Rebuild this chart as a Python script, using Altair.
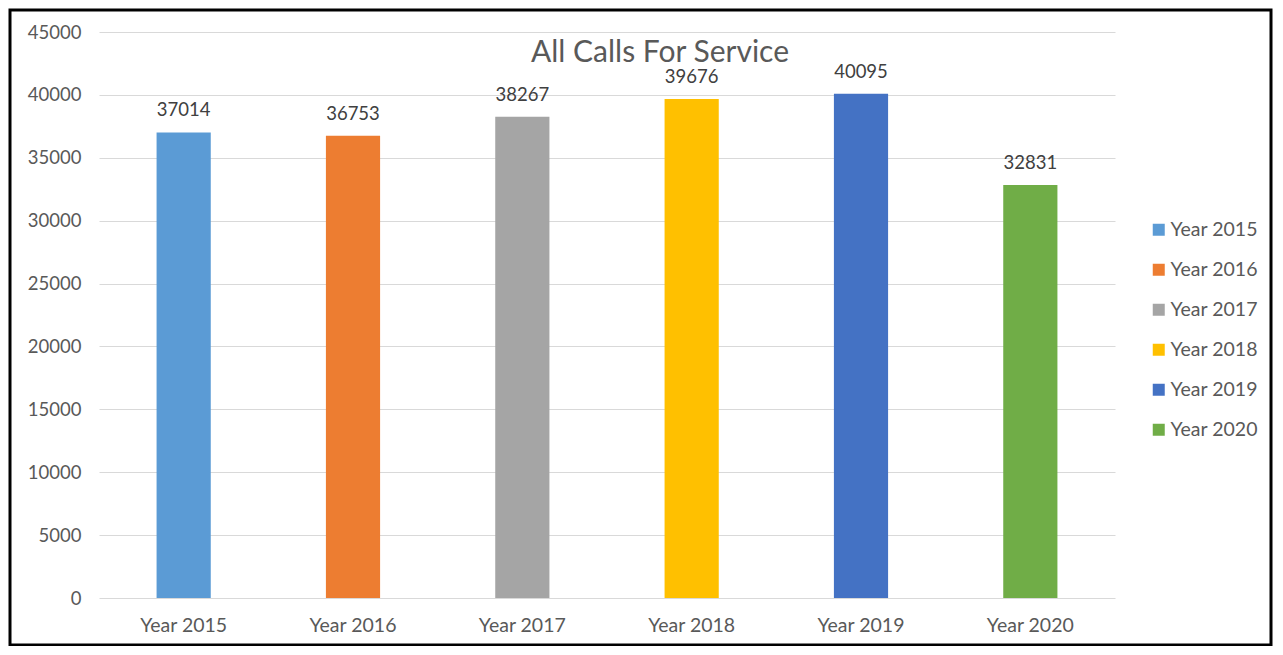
import altair as alt
import pandas as pd

years = ["Year 2015", "Year 2016", "Year 2017", "Year 2018", "Year 2019", "Year 2020"]
calls = [37014, 36753, 38267, 39676, 40095, 32831]
colors = ["#5B9BD5", "#ED7D31", "#A5A5A5", "#FFC000", "#4472C4", "#70AD47"]
y_ticks = [0, 5000, 10000, 15000, 20000, 25000, 30000, 35000, 40000, 45000]

df = pd.DataFrame({"year": years, "calls": calls})

FONT = "Lato"
W, H = 1016, 566

base = alt.Chart(df)

bars = base.mark_bar().encode(
    x=alt.X("year:N", sort=years, title=None,
            scale=alt.Scale(paddingInner=0.68, paddingOuter=0.34),
            axis=alt.Axis(labelAngle=0, labelFontSize=19.5, labelColor="#595959",
                          labelFont=FONT, labelPadding=18, ticks=False, domain=False)),
    y=alt.Y("calls:Q", title=None,
            scale=alt.Scale(domain=[0, 45000], nice=False),
            axis=alt.Axis(values=y_ticks, format="d", labelFontSize=18.5,
                          labelColor="#595959", labelFont=FONT, labelPadding=18,
                          ticks=False, domain=False,
                          gridColor="#D9D9D9", gridWidth=1.2)),
    color=alt.Color("year:N", sort=years,
                    scale=alt.Scale(domain=years, range=colors),
                    legend=alt.Legend(title=None, orient="none", legendX=1050, legendY=188,
                                      symbolType="square", symbolSize=144,
                                      symbolStrokeWidth=0, labelFontSize=19.5,
                                      labelColor="#595959", labelFont=FONT,
                                      rowPadding=19, labelOffset=2)),
)

labels = base.mark_text(baseline="alphabetic", dy=-16, fontSize=18.5,
                        color="#404040", font=FONT).encode(
    x=alt.X("year:N", sort=years),
    y=alt.Y("calls:Q"),
    text=alt.Text("calls:Q", format="d"),
)

border = alt.Chart(pd.DataFrame({"b": [0]})).mark_rect(
    fill=None, stroke="black", strokeWidth=3
).encode(
    x=alt.value(-89), x2=alt.value(1172), y=alt.value(-22), y2=alt.value(613)
)

chart = alt.layer(bars, labels, border).properties(
    width=W, height=H,
    title=alt.TitleParams("All Calls For Service", fontSize=30, font=FONT,
                          color="#595959", fontWeight="normal",
                          anchor="middle", baseline="alphabetic",
                          offset=0, dx=53, dy=83),
    autosize=alt.AutoSizeParams(type="none"),
    padding={"left": 91, "top": 24, "right": 158, "bottom": 48},
).configure(background="white").configure_view(stroke=None)

chart.save("out.html", embed_options={"renderer": "svg", "actions": False})
